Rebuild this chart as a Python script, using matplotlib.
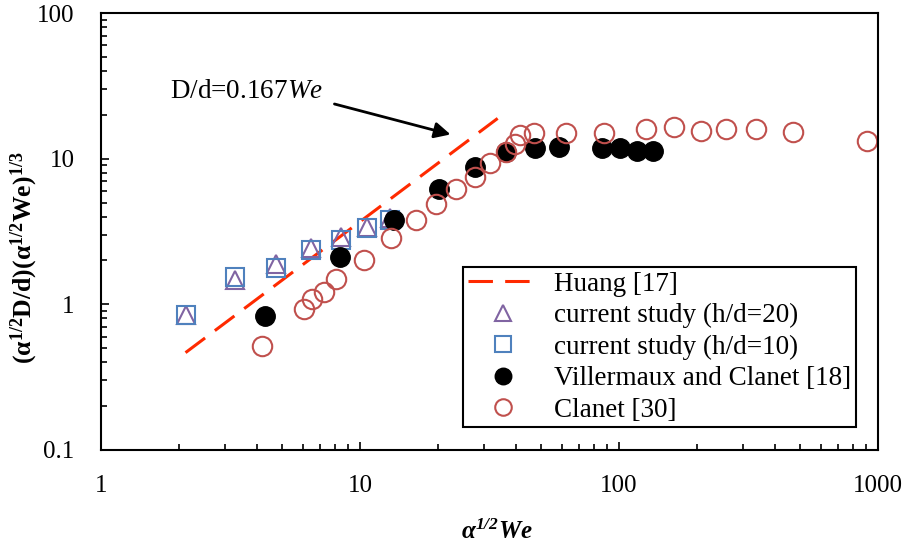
import numpy as np
import matplotlib
matplotlib.use('Agg')
import matplotlib.pyplot as plt

plt.rcParams['font.family'] = 'Liberation Serif'
plt.rcParams['mathtext.fontset'] = 'custom'
plt.rcParams['mathtext.rm'] = 'Liberation Serif'
plt.rcParams['mathtext.it'] = 'Liberation Serif:italic'
plt.rcParams['mathtext.bf'] = 'Liberation Serif:bold'
plt.rcParams['mathtext.bfit'] = 'Liberation Serif:italic:bold'

### data
huang_x = [2.12, 34.0]
huang_y = [0.466, 18.9]

cur20_x = [2.12, 3.29, 4.74, 6.47, 8.47, 10.6, 13.1]
cur20_y = [0.85, 1.47, 1.88, 2.42, 2.91, 3.41, 3.89]

cur10_x = [2.12, 3.29, 4.74, 6.47, 8.47, 10.6, 13.1]
cur10_y = [0.85, 1.53, 1.78, 2.36, 2.76, 3.36, 3.79]

vill_x = [4.30, 8.38, 13.5, 20.1, 27.7, 36.6, 47.4, 58.6, 86.0, 101, 117, 135]
vill_y = [0.83, 2.12, 3.79, 6.15, 8.80, 11.1, 11.8, 12.1, 11.8, 11.8, 11.3, 11.3]

clanet_x = [4.17, 6.09, 6.50, 7.27, 8.11, 10.4, 13.2, 16.5, 19.7, 23.5, 27.7, 31.8,
            36.6, 39.7, 41.5, 47.1, 62.7, 87.3, 127, 163, 207, 259, 338, 470, 910]
clanet_y = [0.517, 0.924, 1.08, 1.22, 1.49, 2.01, 2.86, 3.79, 4.86, 6.15, 7.51, 9.29,
            11.1, 12.7, 14.5, 14.9, 14.9, 14.9, 16.0, 16.6, 15.5, 15.9, 16.1, 15.2, 13.3]

labels = ['Huang [17]', 'current study (h/d=20)', 'current study (h/d=10)',
          'Villermaux and Clanet [18]', 'Clanet [30]']

fig = plt.figure(figsize=(9.05, 5.48), dpi=100)
ax = fig.add_axes([101/905, 1-450/548, 777/905, 437/548])

ax.plot(huang_x, huang_y, color='#FF2A00', lw=2.2, dashes=(8, 4), label=labels[0])
ax.plot(cur20_x, cur20_y, ls='none', marker='^', ms=13, mfc='none', mec='#8064A2', mew=1.5, label=labels[1])
ax.plot(cur10_x, cur10_y, ls='none', marker='s', ms=13, mfc='none', mec='#4F81BD', mew=1.5, label=labels[2])
ax.plot(vill_x, vill_y, ls='none', marker='o', ms=14, mfc='black', mec='black', label=labels[3])
ax.plot(clanet_x, clanet_y, ls='none', marker='o', ms=14, mfc='none', mec='#C0504D', mew=1.5, label=labels[4])

ax.set_xscale('log')
ax.set_yscale('log')
ax.set_xlim(1, 1000)
ax.set_ylim(0.1, 100)
ax.set_xticks([1, 10, 100, 1000])
ax.set_xticklabels(['1', '10', '100', '1000'])
ax.set_yticks([0.1, 1, 10, 100])
ax.set_yticklabels(['0.1', '1', '10', '100'])

for s in ax.spines.values():
    s.set_linewidth(1.5)
ax.tick_params(which='both', direction='in', top=False, right=False, labelsize=18, width=1.2)
ax.tick_params(which='major', length=6)
ax.tick_params(which='minor', length=4.5)
ax.tick_params(axis='y', pad=19)
ax.tick_params(axis='x', pad=18)

ax.set_xlabel(r'$\mathbfit{\alpha^{1/2}We}$', fontsize=18)
ax.xaxis.set_label_coords(0.51, -0.16)
ax.set_ylabel(r'$\mathbf{(\alpha^{1/2}D/d)(\alpha^{1/2}We)^{1/3}}$', fontsize=18.5)
ax.yaxis.set_label_coords(-0.079, 0.44)

ax.annotate('', xy=(22.9, 14.5), xytext=(7.78, 24.0),
            arrowprops=dict(arrowstyle='-|>', color='black', lw=2, mutation_scale=24))
ax.text(3.66, 29.1, r'D/d=0.167$\mathit{We}$', fontsize=19.5, ha='center', va='center')

leg = ax.legend(loc='upper left', bbox_to_anchor=(463/905, 1-267/548), bbox_transform=fig.transFigure,
                fontsize=19.5, frameon=True, fancybox=False, edgecolor='black', framealpha=1,
                handlelength=2.6, handletextpad=0.6, labelspacing=0.24, borderpad=0.17,
                borderaxespad=0, markerscale=0.85)
leg.get_frame().set_linewidth(1.5)

fig.savefig('out.png', dpi=100)
